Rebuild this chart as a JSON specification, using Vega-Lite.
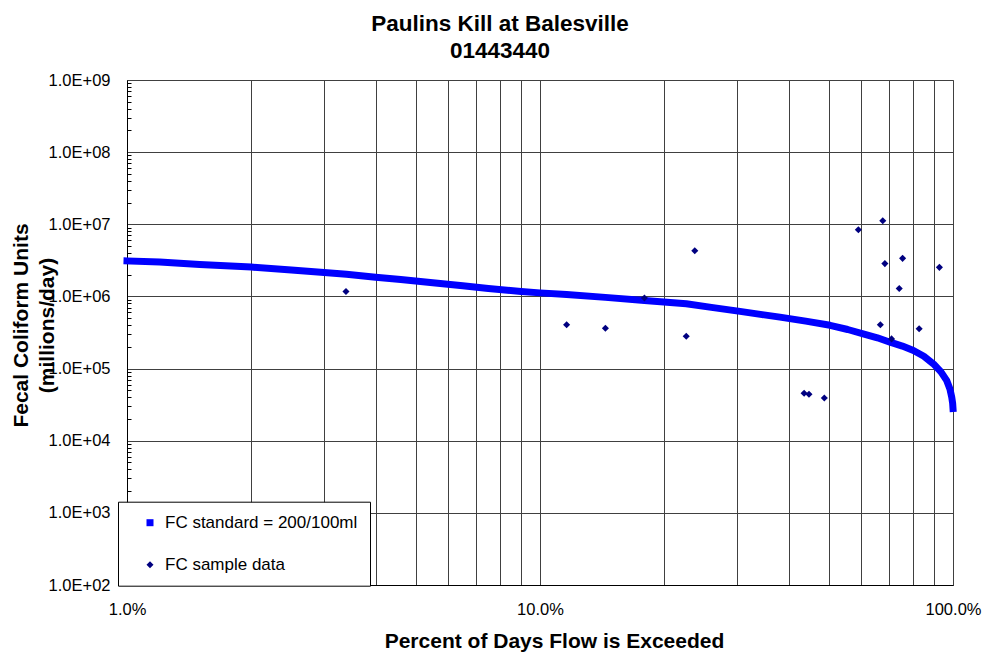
{
  "$schema": "https://vega.github.io/schema/vega-lite/v6.json",
  "width": 826,
  "height": 505,
  "autosize": {"type": "none"},
  "padding": {"left": 127, "top": 80, "right": 32, "bottom": 70},
  "background": "white",
  "config": {"font": "Liberation Sans", "view": {"stroke": "#808080", "strokeWidth": 1}},
  "title": {"text": ["Paulins Kill at Balesville", "01443440"], "fontSize": 22.5, "fontWeight": "bold", "font": "Liberation Sans", "color": "black", "anchor": "middle", "dx": -40, "offset": 10, "lineHeight": 27},
  "layer": [
    {
      "data": {"values": [
        {"pct": 0.010, "load": 3100000},
        {"pct": 0.012, "load": 3000000},
        {"pct": 0.015, "load": 2780000},
        {"pct": 0.020, "load": 2550000},
        {"pct": 0.025, "load": 2330000},
        {"pct": 0.030, "load": 2150000},
        {"pct": 0.034, "load": 2030000},
        {"pct": 0.040, "load": 1850000},
        {"pct": 0.046, "load": 1720000},
        {"pct": 0.055, "load": 1550000},
        {"pct": 0.065, "load": 1410000},
        {"pct": 0.075, "load": 1290000},
        {"pct": 0.090, "load": 1170000},
        {"pct": 0.100, "load": 1120000},
        {"pct": 0.116, "load": 1060000},
        {"pct": 0.144, "load": 970000},
        {"pct": 0.179, "load": 880000},
        {"pct": 0.226, "load": 790000},
        {"pct": 0.260, "load": 705000},
        {"pct": 0.305, "load": 620000},
        {"pct": 0.345, "load": 560000},
        {"pct": 0.381, "load": 516000},
        {"pct": 0.440, "load": 455000},
        {"pct": 0.504, "load": 398000},
        {"pct": 0.556, "load": 348000},
        {"pct": 0.606, "load": 303000},
        {"pct": 0.656, "load": 267000},
        {"pct": 0.704, "load": 232000},
        {"pct": 0.754, "load": 205000},
        {"pct": 0.802, "load": 178000},
        {"pct": 0.850, "load": 148000},
        {"pct": 0.897, "load": 116000},
        {"pct": 0.935, "load": 90000},
        {"pct": 0.966, "load": 68000},
        {"pct": 0.983, "load": 52000},
        {"pct": 0.993, "load": 40000},
        {"pct": 0.998, "load": 33000},
        {"pct": 1.000, "load": 28000}
      ]},
      "mark": {"type": "line", "color": "#0000FF", "strokeWidth": 7, "strokeCap": "square", "strokeJoin": "round", "clip": false},
      "encoding": {
        "x": {
          "field": "pct", "type": "quantitative",
          "scale": {"type": "log", "domain": [0.01, 1], "nice": false},
          "axis": {
            "values": [0.01, 0.02, 0.03, 0.04, 0.05, 0.06, 0.07, 0.08, 0.09, 0.1, 0.2, 0.3, 0.4, 0.5, 0.6, 0.7, 0.8, 0.9, 1],
            "labelExpr": "abs(log(datum.value)/LN10 - round(log(datum.value)/LN10)) < 0.000001 ? format(datum.value, '.1%') : ''",
            "grid": true, "gridColor": "#404040", "gridWidth": 1,
            "ticks": false, "tickSize": 0,
            "domain": true, "domainColor": "black", "domainWidth": 1,
            "labelFontSize": 16.5, "labelColor": "black", "labelPadding": 16, "labelFlush": false, "labelOverlap": false,
            "title": "Percent of Days Flow is Exceeded", "titleFontSize": 21, "titleFontWeight": "bold", "titleColor": "black",
            "titleX": 427, "titleY": 62, "titleBaseline": "alphabetic", "titleAlign": "center"
          }
        },
        "y": {
          "field": "load", "type": "quantitative",
          "scale": {"type": "log", "domain": [100, 1000000000], "nice": false},
          "axis": {
            "values": [100, 1000, 10000, 100000, 1000000, 10000000, 100000000, 1000000000],
            "labelExpr": "'1.0E+0' + round(log(datum.value)/LN10)",
            "grid": true, "gridColor": "#404040", "gridWidth": 1,
            "ticks": false, "tickSize": 0,
            "domain": true, "domainColor": "black", "domainWidth": 1,
            "labelFontSize": 16.5, "labelColor": "black", "labelPadding": 17, "labelOverlap": false, "labelFlush": false,
            "title": ["Fecal Coliform Units", "(millions/day)"], "titleFontSize": 21, "titleFontWeight": "bold", "titleColor": "black",
            "titleX": -100, "titleY": 245, "titleAngle": -90, "titleBaseline": "alphabetic", "titleAlign": "center", "titleLineHeight": 26
          }
        }
      }
    },
    {
      "data": {"values": [
        {"pct": 0.0339, "load": 1170000, "series": "FC sample data"},
        {"pct": 0.116, "load": 405000, "series": "FC sample data"},
        {"pct": 0.144, "load": 363000, "series": "FC sample data"},
        {"pct": 0.179, "load": 950000, "series": "FC sample data"},
        {"pct": 0.226, "load": 280000, "series": "FC sample data"},
        {"pct": 0.237, "load": 4300000, "series": "FC sample data"},
        {"pct": 0.436, "load": 45400, "series": "FC sample data"},
        {"pct": 0.448, "load": 44000, "series": "FC sample data"},
        {"pct": 0.488, "load": 39200, "series": "FC sample data"},
        {"pct": 0.590, "load": 8400000, "series": "FC sample data"},
        {"pct": 0.667, "load": 405000, "series": "FC sample data"},
        {"pct": 0.676, "load": 11200000, "series": "FC sample data"},
        {"pct": 0.684, "load": 2850000, "series": "FC sample data"},
        {"pct": 0.710, "load": 258000, "series": "FC sample data"},
        {"pct": 0.741, "load": 1290000, "series": "FC sample data"},
        {"pct": 0.755, "load": 3370000, "series": "FC sample data"},
        {"pct": 0.828, "load": 356000, "series": "FC sample data"},
        {"pct": 0.927, "load": 2530000, "series": "FC sample data"}
      ]},
      "mark": {"type": "point", "filled": true, "size": 50, "opacity": 1},
      "encoding": {
        "x": {"field": "pct", "type": "quantitative"},
        "y": {
          "field": "load", "type": "quantitative",
          "axis": {
            "orient": "left",
            "values": [200, 300, 400, 500, 600, 700, 800, 900, 2000, 3000, 4000, 5000, 6000, 7000, 8000, 9000, 20000, 30000, 40000, 50000, 60000, 70000, 80000, 90000, 200000, 300000, 400000, 500000, 600000, 700000, 800000, 900000, 2000000, 3000000, 4000000, 5000000, 6000000, 7000000, 8000000, 9000000, 20000000, 30000000, 40000000, 50000000, 60000000, 70000000, 80000000, 90000000, 200000000, 300000000, 400000000, 500000000, 600000000, 700000000, 800000000, 900000000],
            "labels": false, "grid": false, "domain": false,
            "ticks": true, "tickSize": -4, "tickColor": "black", "tickWidth": 1,
            "title": null
          }
        },
        "color": {
          "field": "series", "type": "nominal",
          "scale": {"domain": ["FC standard = 200/100ml", "FC sample data"], "range": ["#0000FF", "#000080"]},
          "legend": {
            "orient": "none", "legendX": -9, "legendY": 421.7, "title": null,
            "padding": 12.5, "rowPadding": 24, "symbolOffset": 11, "labelOffset": 6.5,
            "labelFontSize": 17, "labelFont": "Liberation Sans", "labelColor": "black", "labelLimit": 400,
            "strokeColor": "black", "fillColor": "white", "symbolSize": 49, "symbolStrokeWidth": 0, "cornerRadius": 0
          }
        },
        "shape": {
          "field": "series", "type": "nominal",
          "scale": {"domain": ["FC standard = 200/100ml", "FC sample data"], "range": ["square", "diamond"]}
        }
      }
    }
  ],
  "resolve": {"axis": {"y": "independent"}}
}
